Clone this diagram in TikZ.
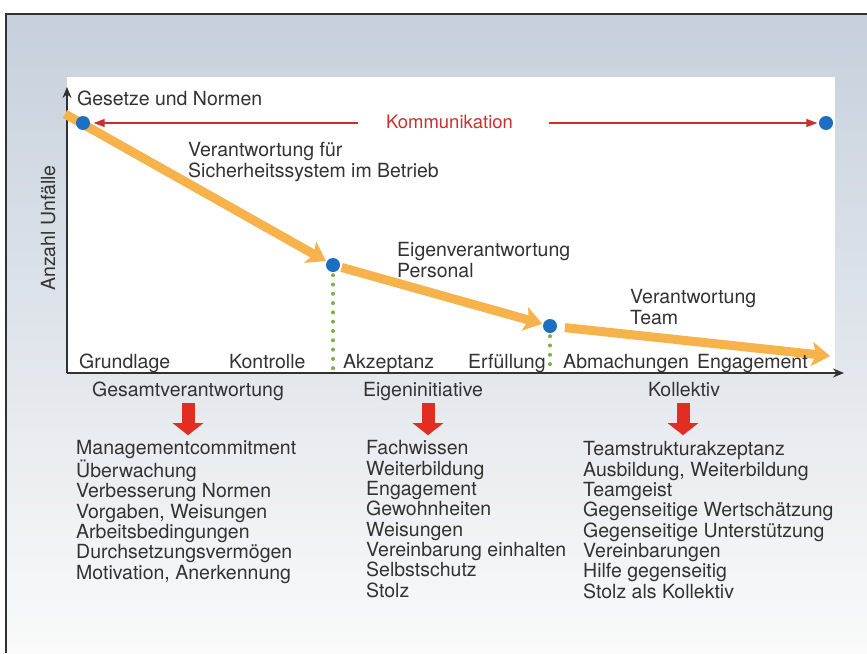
\documentclass[tikz,border=0pt]{standalone}
\usepackage{fontspec}
\setmainfont{TeX Gyre Heros}
\usetikzlibrary{arrows.meta}
\definecolor{bgtop}{RGB}{198,208,220}
\definecolor{bgmid}{RGB}{227,230,234}
\definecolor{bgbot}{RGB}{250,250,250}
\definecolor{pfeil}{RGB}{246,178,75}
\definecolor{punkt}{RGB}{28,110,192}
\definecolor{komm}{RGB}{200,50,45}
\definecolor{rot}{RGB}{226,45,35}
\definecolor{gruen}{RGB}{120,178,66}
\definecolor{schrift}{RGB}{50,50,50}

\begin{document}
\begin{tikzpicture}[x=1pt,y=-1pt,inner sep=0pt,
    txt/.style={text=schrift,font=\fontsize{19.5}{20.3}\selectfont,align=left},
    dot/.style={circle,fill=punkt,minimum size=14pt},
    flow/.style={pfeil,line width=9pt,-{Stealth[length=18pt,width=24pt,inset=4pt]}},
    down/.style={rot,line width=13pt,-{Triangle[length=12pt,width=30pt]}},
    dots/.style={gruen,line width=4pt,line cap=round,dash pattern=on 0pt off 9.3pt,shorten <=3pt}]
    \useasboundingbox (0,0) rectangle (867,653);
    %frame
    \shade[top color=bgtop,middle color=bgmid,bottom color=bgbot] (6,14) rectangle (867,653);
    \fill[white] (67,77) rectangle (835,373);
    \draw[schrift,line width=1.5pt] (6,653) -- (6,14) -- (867,14);

    %axes
    \coordinate (O) at (67,373);
    \coordinate (ytop) at (67,87);
    \coordinate (xend) at (844,373);
    \draw[schrift,line width=1.5pt,-{Stealth[length=11pt,width=9pt]}] (O) -- (ytop);
    \draw[schrift,line width=1.5pt,-{Stealth[length=11pt,width=9pt]}] (O) -- (xend);
    \node (yl) at (55,228) [txt,rotate=90,anchor=base] {Anzahl Unfälle};

    %curve
    \coordinate (s0) at (65,114);
    \coordinate (p1) at (83,123);
    \coordinate (p2) at (333,265);
    \coordinate (p3) at (550,326);
    \coordinate (p4) at (826,123);
    \coordinate (e3) at (830,356);
    \draw[flow,shorten >=8pt] (s0) -- (p2);
    \draw[flow,shorten <=9pt,shorten >=8pt] (p2) -- (p3);
    \draw[flow,shorten <=15pt] (p3) -- (e3);

    \node (P1) at (p1) [dot] {};
    \node (P2) at (p2) [dot] {};
    \node (P3) at (p3) [dot] {};
    \node (P4) at (p4) [dot] {};

    \draw[dots] (P2) -- (P2 |- O);
    \draw[dots] (P3) -- (P3 |- O);

    %kommunikation
    \node (kom) at (449.5,123) [txt,text=komm,font=\fontsize{18.5}{20}\selectfont,text depth=3pt,inner xsep=28pt] {Kommunikation};
    \draw[komm,line width=1.2pt,-{Triangle[length=11pt,width=8pt]},shorten >=3.5pt] (kom.west) -- (P1);
    \draw[komm,line width=1.2pt,-{Triangle[length=11pt,width=8pt]},shorten <=8pt,shorten >=1.5pt] (kom.east) -- (P4);

    %labels in the plot (base = last line)
    \node (gesetze) at (77,105) [txt,anchor=base west] {Gesetze und Normen};
    \node (sicher) at (188,177) [txt,anchor=base west] {Verantwortung für\\Sicherheitssystem im Betrieb};
    \node (personal) at (397,277) [txt,anchor=base west] {Eigenverantwortung\\Personal};
    \node (team) at (630,324) [txt,anchor=base west] {Verantwortung\\Team};

    %axis labels
    \node (grund) at (79,368) [txt,anchor=base west] {Grundlage};
    \node (kontr) at (229,368) [txt,anchor=base west] {Kontrolle};
    \node (akzep) at (343,368) [txt,anchor=base west] {Akzeptanz};
    \node (erf) at (468,368) [txt,anchor=base west] {Erfüllung};
    \node (abm) at (563,368) [txt,anchor=base west] {Abmachungen};
    \node (eng) at (697,368) [txt,anchor=base west] {Engagement};

    %columns
    \node (hA) at (188,396) [txt,anchor=base,text height=14pt,text depth=4pt] {Gesamtverantwortung};
    \node (hB) at (423,396) [txt,anchor=base,text height=14pt,text depth=4pt] {Eigeninitiative};
    \node (hC) at (684,396) [txt,anchor=base,text height=14pt,text depth=4pt] {Kollektiv};

    \node (lA) at (76,579) [txt,anchor=base west] {Managementcommitment\\Überwachung\\Verbesserung Normen\\Vorgaben, Weisungen\\Arbeitsbedingungen\\Durchsetzungsvermögen\\Motivation, Anerkennung};
    \node (lB) at (366,597) [txt,anchor=base west] {Fachwissen\\Weiterbildung\\Engagement\\Gewohnheiten\\Weisungen\\Vereinbarung einhalten\\Selbstschutz\\Stolz};
    \node (lC) at (583,598) [txt,anchor=base west] {Teamstrukturakzeptanz\\Ausbildung, Weiterbildung\\Teamgeist\\Gegenseitige Wertschätzung\\Gegenseitige Unterstützung\\Vereinbarungen\\Hilfe gegenseitig\\Stolz als Kollektiv};

    \draw[down] ([yshift=-3pt]hA.south) -- ([yshift=-35pt]hA.south);
    \draw[down] ([xshift=5pt,yshift=-3pt]hB.south) -- ([xshift=5pt,yshift=-35pt]hB.south);
    \draw[down] ([xshift=-1pt,yshift=-3pt]hC.south) -- ([xshift=-1pt,yshift=-35pt]hC.south);
\end{tikzpicture}
\end{document}
